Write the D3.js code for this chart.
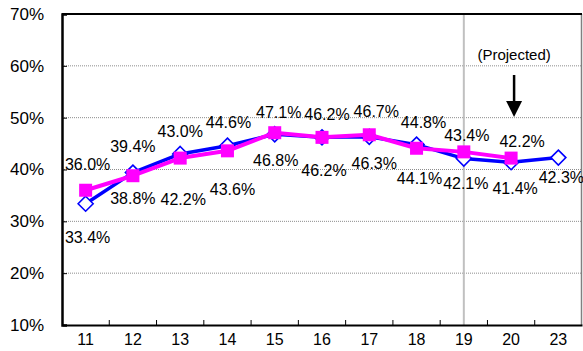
<!DOCTYPE html>
<html>
<head>
<meta charset="utf-8">
<script src="https://cdn.jsdelivr.net/npm/d3@7"></script>
<style>
  html, body { margin: 0; padding: 0; background: #fff; }
  svg { display: block; font-family: "Liberation Sans", Arial, sans-serif; }
</style>
</head>
<body>
<svg id="chart" width="583" height="351"></svg>
<script>
// Year categories along the x axis
const categories = ["11", "12", "13", "14", "15", "16", "17", "18", "19", "20", "23"];
// Series drawn with hollow blue diamonds
const seriesBlue = [33.4, 39.4, 43.0, 44.6, 46.8, 46.2, 46.3, 44.8, 42.1, 41.4, 42.3];
// Series drawn with filled magenta squares (no value for the last category)
const seriesMagenta = [36.0, 38.8, 42.2, 43.6, 47.1, 46.2, 46.7, 44.1, 43.4, 42.2, null];
// Y axis ticks (percent)
const yTicks = [10, 20, 30, 40, 50, 60, 70];
const projectedLabel = "(Projected)";
const projectedCategory = "20";
const dividerCategory = "19";

// Label placement relative to each point [dx, dy] in pixels
const blueLabelOffsets = [[2, 34], [0, -26], [0, -23], [1, -23], [1, 26], [2, 33], [5, 26], [7, -22], [2, 25], [4, 26], [3, 20]];
const magentaLabelOffsets = [[2, -26], [0, 23], [3, 41], [5, 38], [4, -20], [5, -23], [7, -24], [3, 30], [3, -17], [11, -17], null];

const W = 583, H = 351;
const margin = { top: 14, right: 1, bottom: 26, left: 62 };
const svg = d3.select("#chart");

const x = d3.scaleBand().domain(categories).range([margin.left, W - margin.right]).padding(0);
const y = d3.scaleLinear().domain([10, 70]).range([H - margin.bottom, margin.top]);
const cx = c => x(c) + x.bandwidth() / 2;

// Dotted horizontal gridlines
svg.append("g")
  .selectAll("line")
  .data(yTicks.filter(t => t > 10 && t < 70))
  .join("line")
  .attr("x1", margin.left).attr("x2", W - margin.right)
  .attr("y1", d => y(d)).attr("y2", d => y(d))
  .attr("stroke", "#8c8c8c").attr("stroke-width", 1)
  .attr("stroke-dasharray", "1,1");

// Vertical divider before the projected period
svg.append("line")
  .attr("x1", cx(dividerCategory)).attr("x2", cx(dividerCategory))
  .attr("y1", y(70)).attr("y2", y(10))
  .attr("stroke", "#c0c0c0").attr("stroke-width", 2);

// Right border of the plot
svg.append("line")
  .attr("x1", W - margin.right - 0.5).attr("x2", W - margin.right - 0.5)
  .attr("y1", y(70)).attr("y2", y(10))
  .attr("stroke", "#808080").attr("stroke-width", 1.5);

// Top border
svg.append("line")
  .attr("x1", margin.left).attr("x2", W - margin.right)
  .attr("y1", y(70)).attr("y2", y(70))
  .attr("stroke", "#000").attr("stroke-width", 2);

// Y axis
const yAxis = svg.append("g")
  .attr("transform", `translate(${margin.left},0)`)
  .call(d3.axisLeft(y).tickValues(yTicks).tickSize(-5).tickFormat(d => d + "%").tickPadding(18));
yAxis.select(".domain").attr("stroke", "#000").attr("stroke-width", 2.5);
yAxis.selectAll(".tick line").attr("stroke", "#000");
yAxis.selectAll("text").attr("font-size", 17).attr("fill", "#000")
  .attr("font-family", "Liberation Sans, Arial, sans-serif");

// X axis with tick marks between categories
const xAxis = svg.append("g")
  .attr("transform", `translate(0,${H - margin.bottom})`)
  .call(d3.axisBottom(x).tickSize(0).tickPadding(9));
xAxis.select(".domain").attr("stroke", "#000").attr("stroke-width", 2);
xAxis.selectAll("text").attr("font-size", 16).attr("fill", "#000")
  .attr("font-family", "Liberation Sans, Arial, sans-serif");
xAxis.append("g")
  .selectAll("line")
  .data(categories.slice(1))
  .join("line")
  .attr("x1", d => x(d)).attr("x2", d => x(d))
  .attr("y1", 0).attr("y2", -5)
  .attr("stroke", "#000").attr("stroke-width", 1);

// Blue series
const blueData = categories.map((c, i) => ({ c, v: seriesBlue[i], off: blueLabelOffsets[i] }));
const line = d3.line().x(d => cx(d.c)).y(d => y(d.v)).defined(d => d.v != null);
svg.append("path")
  .datum(blueData)
  .attr("d", line)
  .attr("fill", "none").attr("stroke", "#0000ff").attr("stroke-width", 3.5)
  .attr("stroke-linejoin", "round");
svg.append("g")
  .selectAll("path")
  .data(blueData)
  .join("path")
  .attr("transform", d => `translate(${cx(d.c)},${y(d.v)})`)
  .attr("d", "M0,-7.5L7.5,0L0,7.5L-7.5,0Z")
  .attr("fill", "#fff").attr("stroke", "#0000ff").attr("stroke-width", 1.6);

// Magenta series
const magData = categories.map((c, i) => ({ c, v: seriesMagenta[i], off: magentaLabelOffsets[i] })).filter(d => d.v != null);
svg.append("path")
  .datum(magData)
  .attr("d", line)
  .attr("fill", "none").attr("stroke", "#ff00ff").attr("stroke-width", 4)
  .attr("stroke-linejoin", "round");
svg.append("g")
  .selectAll("rect")
  .data(magData)
  .join("rect")
  .attr("x", d => cx(d.c) - 6.5).attr("y", d => y(d.v) - 6.5)
  .attr("width", 13).attr("height", 13)
  .attr("fill", "#ff00ff");

// Value labels
const fmt = d3.format(".1f");
const labels = svg.append("g").attr("font-size", 16).attr("fill", "#000").attr("text-anchor", "middle");
labels.selectAll("text.blue")
  .data(blueData)
  .join("text").attr("class", "blue")
  .attr("x", d => cx(d.c) + d.off[0])
  .attr("y", d => y(d.v) + d.off[1])
  .attr("dy", "0.36em")
  .text(d => fmt(d.v) + "%");
labels.selectAll("text.mag")
  .data(magData)
  .join("text").attr("class", "mag")
  .attr("x", d => cx(d.c) + d.off[0])
  .attr("y", d => y(d.v) + d.off[1])
  .attr("dy", "0.36em")
  .text(d => fmt(d.v) + "%");

// Projection annotation with downward arrow
const ax = cx(projectedCategory) + 3;
svg.append("text")
  .attr("x", ax).attr("y", 55).attr("dy", "0.36em")
  .attr("text-anchor", "middle").attr("font-size", 15).attr("fill", "#000")
  .text(projectedLabel);
svg.append("line")
  .attr("x1", ax).attr("x2", ax).attr("y1", 75).attr("y2", 103)
  .attr("stroke", "#000").attr("stroke-width", 2.5);
svg.append("path")
  .attr("d", `M${ax - 8},101L${ax + 8},101L${ax},117Z`)
  .attr("fill", "#000");
</script>
</body>
</html>
